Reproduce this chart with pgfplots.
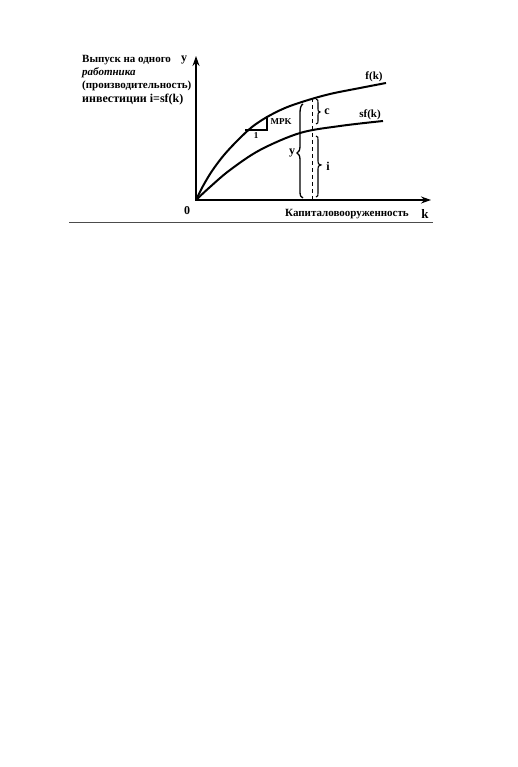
\documentclass[border=0pt]{standalone}
\usepackage{fontspec}
\setmainfont{Liberation Serif}
\usepackage{pgfplots}
\pgfplotsset{compat=1.18}
\usetikzlibrary{arrows.meta}
\tikzset{lb/.style={font=\bfseries\fontsize{11}{12}\selectfont, inner sep=0pt}}
\begin{document}
\begin{tikzpicture}
\path[use as bounding box] (0,0) rectangle (517pt,767pt);
\begin{axis}[
  at={(0,0)}, anchor=south west,
  scale only axis, width=517pt, height=767pt,
  xmin=0, xmax=517, ymin=0, ymax=767, y dir=reverse,
  hide axis, clip=false,
]
% axes
\draw[line width=1.2pt, -{Stealth[length=10pt,width=7pt]}] (axis cs:196,201) -- (axis cs:196,56);
\draw[line width=1.2pt, -{Stealth[length=10pt,width=7pt]}] (axis cs:195,200) -- (axis cs:431,200);
\draw[line width=1pt, black!70] (axis cs:69,223) -- (axis cs:433,223);
% f(k)
\addplot[black, line width=2pt, smooth, tension=0.55] coordinates {
 (196,200) (203,186) (212,171) (224,155) (238,140) (252,127) (267,117) (285,108) (305,101) (330,94) (360,88) (386,83)};
% sf(k)
\addplot[black, line width=2pt, smooth, tension=0.55] coordinates {
 (196,200) (210,187) (230,170) (260,150) (300,133) (340,126) (383,121)};
% MPK triangle
\draw[line width=1.2pt] (axis cs:245,130) -- (axis cs:267,130) -- (axis cs:267,116);
% y brace (solid)
\draw[line width=1.3pt] (axis cs:303,104) .. controls (axis cs:301,105) and (axis cs:300,108) .. (axis cs:300,113)
  -- (axis cs:300,146) .. controls (axis cs:300,150) and (axis cs:299,152) .. (axis cs:297,153)
  .. controls (axis cs:299,154) and (axis cs:300,156) .. (axis cs:300,160)
  -- (axis cs:300,192) .. controls (axis cs:300,196) and (axis cs:301,197) .. (axis cs:303,198);
% dashed vertical
\draw[line width=1pt, dash pattern=on 4pt off 3pt] (axis cs:312,98) -- (axis cs:312,200);
% c brace
\draw[line width=1.1pt] (axis cs:316,99) .. controls (axis cs:318,100) .. (axis cs:318,103)
  -- (axis cs:318,109) .. controls (axis cs:318,111) .. (axis cs:320,112)
  .. controls (axis cs:318,113) .. (axis cs:318,115) -- (axis cs:318,121) .. controls (axis cs:318,123) .. (axis cs:316,124);
% i brace
\draw[line width=1.1pt] (axis cs:316,136) .. controls (axis cs:318,137) .. (axis cs:318,140)
  -- (axis cs:318,161) .. controls (axis cs:318,164) .. (axis cs:321,165)
  .. controls (axis cs:318,166) .. (axis cs:318,169) -- (axis cs:318,193) .. controls (axis cs:318,196) .. (axis cs:316,197);
% labels
\node[lb] at (axis cs:374,77) {f(k)};
\node[lb] at (axis cs:370,115) {sf(k)};
\node[lb, font=\bfseries\fontsize{9}{10}\selectfont] at (axis cs:281,122) {MPK};
\node[lb, font=\bfseries\fontsize{9}{10}\selectfont] at (axis cs:256,136) {1};
\node[lb, font=\bfseries\fontsize{12}{12}\selectfont] at (axis cs:327,112) {c};
\node[lb, font=\bfseries\fontsize{12}{12}\selectfont] at (axis cs:328,166) {i};
\node[lb, font=\bfseries\fontsize{12}{12}\selectfont] at (axis cs:292,153) {y};
\node[lb, font=\bfseries\fontsize{12}{12}\selectfont] at (axis cs:184,60) {y};
\node[lb, font=\bfseries\fontsize{12}{12}\selectfont] at (axis cs:187,211) {0};
\node[lb, font=\bfseries\fontsize{11}{12}\selectfont] at (axis cs:347,214) {Капиталовооруженность};
\node[lb, font=\bfseries\fontsize{13}{13}\selectfont] at (axis cs:425,214) {k};
\node[lb, anchor=west, font=\bfseries\fontsize{11}{12}\selectfont] at (axis cs:82,60) {Выпуск на одного};
\node[lb, anchor=west, font=\bfseries\itshape\fontsize{11}{12}\selectfont] at (axis cs:82,73) {работника};
\node[lb, anchor=west, font=\bfseries\fontsize{11}{12}\selectfont] at (axis cs:82,86) {(производительность)};
\node[lb, anchor=west, font=\bfseries\fontsize{12}{12}\selectfont] at (axis cs:82,100) {инвестиции i=sf(k)};
\end{axis}
\end{tikzpicture}
\end{document}
